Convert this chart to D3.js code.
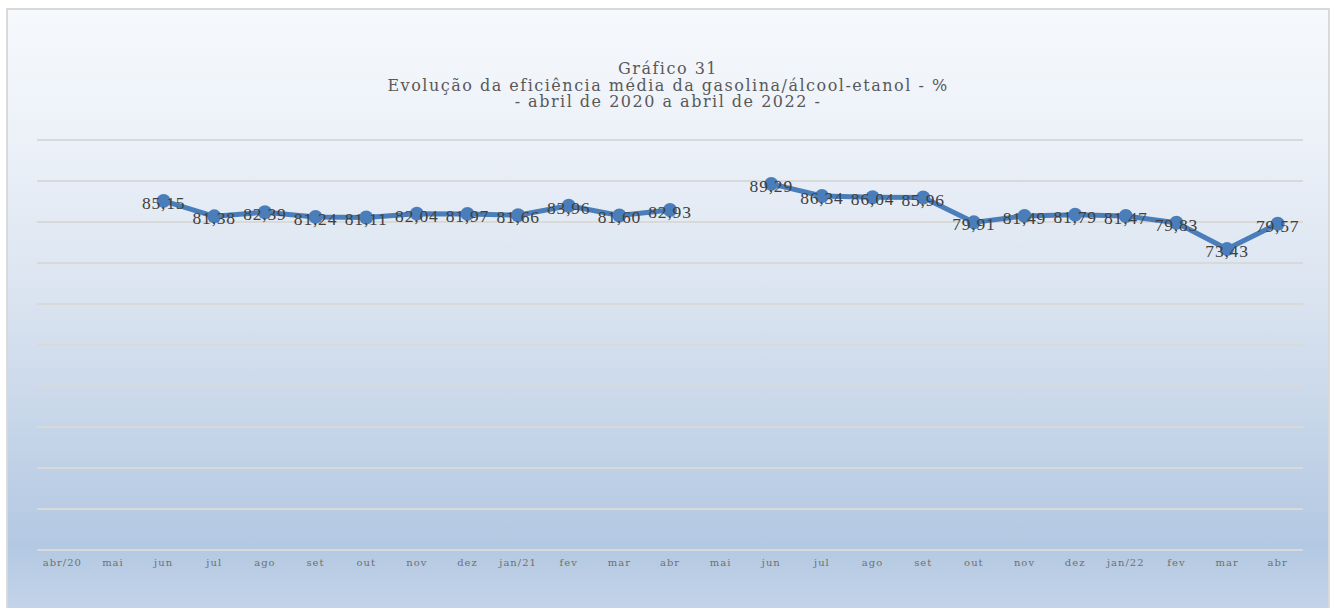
<!DOCTYPE html>
<html><head><meta charset="utf-8">
<script src="https://cdn.jsdelivr.net/npm/d3@7"></script>
<style>html,body{margin:0;padding:0;background:#fff;overflow:hidden}</style>
</head><body><svg id="c" width="1333" height="608"></svg>
<script>
const categories = ["abr/20","mai","jun","jul","ago","set","out","nov","dez","jan/21","fev","mar","abr","mai","jun","jul","ago","set","out","nov","dez","jan/22","fev","mar","abr"];
const values = [null,null,85.15,81.38,82.39,81.24,81.11,82.04,81.97,81.66,83.96,81.60,82.93,null,89.29,86.34,86.04,85.96,79.91,81.49,81.79,81.47,79.83,73.43,79.57];
const titleLines = ["Gráfico 31","Evolução da eficiência média da gasolina/álcool-etanol - %","- abril de 2020 a abril de 2022 -"];
const yTicks = [0,10,20,30,40,50,60,70,80,90,100];

const svg = d3.select("#c");
const defs = svg.append("defs");
const g = defs.append("linearGradient").attr("id","bg").attr("x1",0).attr("y1",0).attr("x2",0).attr("y2",1);
[[0,"#f6f9fc"],[0.2,"#edf2f9"],[0.5,"#d8e2ef"],[0.88,"#b3c8e2"],[1,"#c6d6ea"]].forEach(([o,c])=>g.append("stop").attr("offset",o).attr("stop-color",c));
svg.append("rect").attr("x",7).attr("y",9).attr("width",1322).attr("height",610).attr("fill","url(#bg)").attr("stroke","#d9d9d9").attr("stroke-width",2);

const x = d3.scaleBand().domain(d3.range(categories.length)).range([37,1303]);
const y = d3.scaleLinear().domain([0,100]).range([550,140]);

svg.append("g").selectAll("line").data(yTicks).join("line")
  .attr("x1",37).attr("x2",1303).attr("y1",d=>y(d)).attr("y2",d=>y(d))
  .attr("stroke","#d9d9d9").attr("stroke-width",2);

const xAxis = svg.append("g").attr("transform","translate(0,550)")
  .call(d3.axisBottom(x).tickSize(0).tickPadding(9).tickFormat(i=>categories[i]));
xAxis.select(".domain").remove();
xAxis.selectAll("text").attr("font-family","DejaVu Serif").attr("font-size",10).attr("letter-spacing",1).attr("fill","#707070");

svg.append("g").attr("text-anchor","middle").attr("font-family","DejaVu Serif").attr("font-size",16).attr("letter-spacing",1.5).attr("fill","#595959")
  .selectAll("text").data(titleLines).join("text").attr("x",668).attr("y",(d,i)=>74+i*16.5).text(d=>d);

const cx = i=>x(i)+x.bandwidth()/2;
const line = d3.line().defined(d=>d!=null).x((d,i)=>cx(i)).y(d=>y(d));
svg.append("path").datum(values).attr("d",line).attr("fill","none").attr("stroke","#4a7ebb").attr("stroke-width",5).attr("stroke-linejoin","round");

const pts = values.map((v,i)=>({v,i})).filter(d=>d.v!=null);
svg.append("g").selectAll("circle").data(pts).join("circle")
  .attr("cx",d=>cx(d.i)).attr("cy",d=>y(d.v)).attr("r",7).attr("fill","#4a7ebb");
svg.append("g").selectAll("text").data(pts).join("text")
  .attr("x",d=>cx(d.i)).attr("y",d=>y(d.v)+8).attr("text-anchor","middle")
  .attr("font-family","Liberation Serif").attr("font-size",17.5).attr("letter-spacing",0.8).attr("fill","#404040")
  .text(d=>d.v.toFixed(2).replace(".",","));
</script></body></html>
